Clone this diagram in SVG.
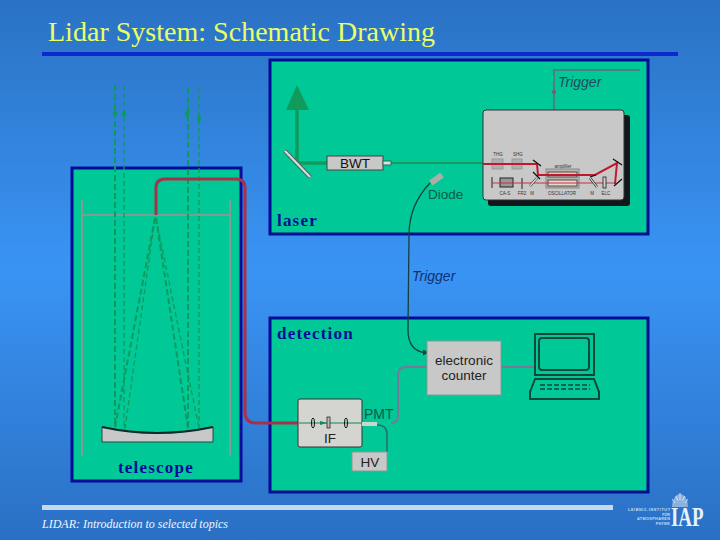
<svg xmlns="http://www.w3.org/2000/svg" width="720" height="540" viewBox="0 0 720 540">
<defs>
<linearGradient id="bg" x1="0" y1="0" x2="0" y2="1"><stop offset="0" stop-color="#2a72c4"/><stop offset="0.5" stop-color="#3a94f4"/><stop offset="1" stop-color="#2a70c4"/></linearGradient>
</defs>
<style>
.panel{fill:#00c896;stroke:#000c96;stroke-width:3}
.s{font-family:"Liberation Serif",serif}
.h{font-family:"Liberation Sans",Arial,sans-serif}
.lab{font-family:"Liberation Serif",serif;font-size:17px;font-weight:bold;fill:#000c96;letter-spacing:1.2px}
.fb{fill:none;stroke:#0e9a5e;stroke-dasharray:6 3;stroke-width:2}
.fb2{fill:none;stroke:#0e9a5e;stroke-dasharray:5 3;stroke-width:1.300}
.red{fill:none;stroke:#a83048;stroke-width:3}
.gl{fill:none;stroke:#7a7898;stroke-width:2}
</style>
<rect width="720" height="540" fill="url(#bg)"/>
<text class="s" x="48" y="41" font-size="28" fill="#eaff66" textLength="387">Lidar System: Schematic Drawing</text>
<rect x="42" y="52" width="636" height="4" fill="#0a2ad0"/>
<rect x="42" y="505" width="571" height="5" fill="#c8d8ec"/>
<text class="s" x="42" y="528" font-size="12" font-style="italic" fill="#f0f4ff" textLength="186">LIDAR: Introduction to selected topics</text>
<g id="laser">
<rect class="panel" x="270" y="60" width="378" height="174"/>
<text class="lab" x="277" y="226">laser</text>
</g>
<g id="telescope">
<rect class="panel" x="72" y="168" width="169" height="313"/>
<text class="lab" x="118" y="473">telescope</text>
</g>
<g id="detection">
<rect class="panel" x="270" y="318" width="378" height="174"/>
<text class="lab" x="277" y="339">detection</text>
</g>
<g id="connectors">
<path d="M82 200V456M230 200V456M82 215H230" fill="none" stroke="#7f9c92" stroke-width="2"/>
<path class="fb" d="M115 85V427M188 88V428M155 218L115 427M156 218L188 428"/>
<path class="fb2" d="M124 85V435M199 88V428M155 218L124 435M156 218L199 428"/>
<path d="M115 109l-2.500 4.500 2.500 4.500 2.500-4.500zM124 110l-2.500 4 2.500 4 2.500-4zM187 109l-2.500 4.500 2.500 4.500 2.500-4.500zM199 114l-2.500 4.500 2.500 4.500 2.500-4.500z" fill="#0e9a5e"/>
<path class="red" d="M156 215V188Q156 179 165 179H236Q245 179 245 188V412Q245 423 256 423H299"/>
<path d="M297 105V163H327" stroke="#109a5c" stroke-width="3.500" fill="none"/>
<path d="M286 110L297 85L309 110Z" fill="#109a5c"/>
<path d="M391 163H483" stroke="#189a5e" stroke-width="2" fill="none"/>
<path d="M554 110V70H640" fill="none" stroke="#4c8088" stroke-width="2"/>
<circle cx="554" cy="92" r="2" fill="#8a5070"/>
<path d="M430 183Q409 205 409 235L408 330Q408 350 424 352.500" fill="none" stroke="#14403c" stroke-width="1.300"/>
<path d="M423 349.500l6 3-6 3z" fill="#124a40"/>
<path class="gl" d="M391 423Q398 423 398 415V375Q398 367 406 367H427"/>
<path class="gl" d="M501 367H534"/>
<path d="M377 425Q387 425 387 434V452" fill="none" stroke="#2a6a70" stroke-width="1.500"/>
</g>
<g id="mirror"><path d="M285 151L310 177" stroke="#4a5a58" stroke-width="4"/><path d="M285 151L310 177" stroke="#d0dcd8" stroke-width="2.400"/></g>
<g id="bwt">
<rect x="327" y="156" width="56" height="14" fill="#c8c8c8" stroke="#444"/>
<rect x="383" y="161" width="8" height="4" fill="#d4e4dc" stroke="#2a6a50"/>
<text class="h" x="355" y="168" font-size="13.500" text-anchor="middle" fill="#111">BWT</text>
</g>
<g id="diode">
<path d="M431 183L442 175" stroke="#a8b0a8" stroke-width="6"/>
<text class="h" x="428" y="199" font-size="13.500" fill="#0a5a48">Diode</text>
</g>
<text class="h" x="558" y="87" font-size="14" font-style="italic" fill="#244a60">Trigger</text>
<text class="h" x="412" y="281" font-size="14" font-style="italic" fill="#103070">Trigger</text>
<g id="laser-head">
<rect x="488" y="115" width="142" height="91" rx="3" fill="#10181c"/>
<rect x="483" y="110" width="141" height="90" rx="3" fill="#c8c8c8" stroke="#333"/>
<g font-family="Liberation Sans,sans-serif" font-size="4.500" fill="#333" text-anchor="middle">
<text x="498" y="156">THG</text><text x="518" y="156">SHG</text><text x="563" y="168">amplifier</text><text x="505" y="195">CA-S</text><text x="522" y="195">FR2</text><text x="532" y="195">M</text><text x="562" y="195">OSCILLATOR</text><text x="592" y="195">M</text><text x="606" y="195">ELC</text>
</g>
<rect x="492" y="159" width="11" height="10" fill="#b0aeac" stroke="#999"/>
<rect x="512" y="159" width="10" height="10" fill="#b0aeac" stroke="#999"/>
<rect x="546" y="169" width="33" height="19" fill="#b8b4b0" stroke="#888"/>
<rect x="548" y="172" width="29" height="5" fill="#e4c8c0" stroke="#333" stroke-width=".8"/>
<rect x="548" y="180" width="29" height="6" fill="#e8d8d0" stroke="#333" stroke-width=".8"/>
<rect x="500" y="178" width="13" height="9" fill="#999" stroke="#222"/>
<path d="M492 177V188M522 178V189" stroke="#222" stroke-width="1"/>
<path d="M492 183H614" stroke="#c83040" stroke-width="1.200" fill="none"/>
<rect x="603" y="177" width="3" height="11" fill="#ccc" stroke="#222" stroke-width=".8"/>
<path d="M483 164H537L538 175H595L617 163L615 184" stroke="#c01830" stroke-width="2" fill="none"/>
<path d="M533 160L541 166M533 172L540 179M613 159L622 165M614 186L622 179M590 177L596 175" stroke="#111" stroke-width="1.300"/>
<path d="M530 186L537 178M590 178L597 187" stroke="#333" stroke-width="2.500"/><path d="M530 186L537 178M590 178L597 187" stroke="#ddd" stroke-width="1.200"/>
</g>
<g id="counter">
<rect x="427" y="341" width="74" height="54" fill="#c8c8c8" stroke="#8a9a90"/>
<text class="h" x="464" y="365" font-size="13.500" text-anchor="middle" fill="#222">electronic</text>
<text class="h" x="464" y="380" font-size="13.500" text-anchor="middle" fill="#222">counter</text>
</g>
<g id="computer" fill="none" stroke="#0a4a3a" stroke-width="2">
<rect x="535" y="334" width="59" height="41"/>
<rect x="539" y="338" width="50" height="32" rx="3"/>
<path d="M535 379L530 392V399H599V392L594 379Z"/>
<path d="M540 385H590M540 389H590" stroke-dasharray="5 2" stroke-width="1.500"/>
</g>
<g id="pmt">
<rect x="298" y="399" width="64" height="48" rx="2" fill="#d4d4d0" stroke="#333"/>
<path d="M299 423H362" stroke="#108a50" stroke-width="1.200"/>
<path d="M320 421l7 2-7 2z" fill="#108a50"/>
<ellipse cx="313" cy="423" rx="1.500" ry="5" fill="none" stroke="#111"/>
<rect x="327" y="417" width="3" height="11" fill="#bbb" stroke="#111" stroke-width=".7"/>
<ellipse cx="346" cy="423" rx="1.500" ry="5" fill="none" stroke="#111"/>
<rect x="362" y="422" width="15" height="4" fill="#ccd4d0"/>
<text class="h" x="330" y="443" font-size="13.500" text-anchor="middle" fill="#222">IF</text>
<text class="h" x="364" y="419" font-size="14" fill="#0a5a48">PMT</text>
</g>
<g id="hv">
<rect x="352" y="452" width="35" height="19" fill="#c8c8c8" stroke="#8a9a90"/>
<text class="h" x="370" y="467" font-size="13.500" text-anchor="middle" fill="#222">HV</text>
</g>
<g id="primary">
<path d="M102 427Q157 439 213 427V442H102Z" fill="#c8c8c8" stroke="#1c4a40"/>
<path d="M102 427Q157 439 213 427" fill="none" stroke="#0a2a2a" stroke-width="2"/>
</g>
<g id="logo">
<g font-family="Liberation Sans,sans-serif" font-size="3.800" fill="#c8dcf0" text-anchor="end" font-weight="bold">
<text x="670" y="511" textLength="42">LEIBNIZ-INSTITUT</text><text x="670" y="516">FÜR</text><text x="670" y="520" textLength="33">ATMOSPHÄREN</text><text x="670" y="525">PHYSIK</text>
</g>
<path d="M672 507A8 13 0 0 1 688 507Z" fill="#d8e6f4" opacity=".55"/>
<path d="M675 503L672 499M678 501L676 496M680 500V493M682 501L685 496M685 503L688 499" stroke="#e4eef8" stroke-width=".8"/>
<text class="s" font-size="27" font-weight="bold" fill="#e8f2fb" transform="translate(671 526) scale(.7 1)">IAP</text>
</g>
</svg>
